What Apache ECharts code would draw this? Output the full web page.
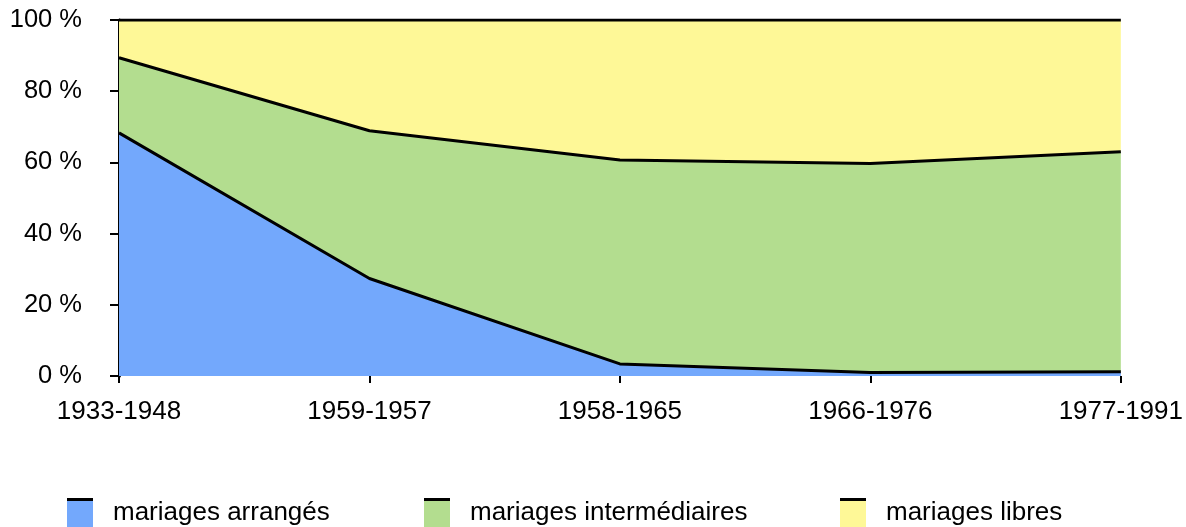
<!DOCTYPE html>
<html>
<head>
<meta charset="utf-8">
<script src="https://cdn.jsdelivr.net/npm/echarts@6/dist/echarts.min.js"></script>
<style>
  html, body { margin: 0; padding: 0; background: #fff; }
  #chart { width: 1186px; height: 527px; }
</style>
</head>
<body>
<div id="chart"></div>
<script>
// periods and shares (%)
var periods = ['1933-1948', '1959-1957', '1958-1965', '1966-1976', '1977-1991'];
var arranges = [68.3, 27.4, 3.4, 1.0, 1.2];
var intermediaires = [21.1, 41.5, 57.3, 58.7, 61.8];
var libres = [10.6, 31.1, 39.3, 40.3, 37.0];
var yTicks = [0, 20, 40, 60, 80, 100];

var names = ['mariages arrangés', 'mariages intermédiaires', 'mariages libres'];
var colors = ['#73a8fc', '#b3dd8f', '#fef897'];
var legendX = [67, 424, 840];

var font = '"Liberation Sans", Arial, Helvetica, sans-serif';

var myChart = echarts.init(document.getElementById('chart'));

function areaSeries(name, data, color) {
    return {
        name: name,
        type: 'line',
        stack: 'total',
        data: data,
        symbol: 'none',
        lineStyle: { color: '#000', width: 3 },
        itemStyle: { color: color },
        areaStyle: { color: color, opacity: 1 },
        emphasis: { disabled: true }
    };
}

var legends = names.map(function (n, i) {
    return {
        data: [n],
        left: legendX[i],
        top: 498,
        icon: 'rect',
        itemWidth: 26,
        itemHeight: 29,
        itemGap: 0,
        textStyle: { fontFamily: font, fontSize: 26, color: '#000', padding: [6, 0, 0, 15] },
        selectedMode: false,
        padding: 0
    };
});

// thin black bar on top of each legend swatch
var bars = legendX.map(function (x) {
    return {
        type: 'rect',
        left: x,
        top: 498,
        shape: { width: 26, height: 3 },
        style: { fill: '#000' },
        z: 100
    };
});

option = {
    animation: false,
    grid: { left: 119, right: 64, top: 20, bottom: 151 },
    legend: legends,
    graphic: bars,
    xAxis: {
        type: 'category',
        boundaryGap: false,
        data: periods,
        axisLine: { show: false },
        axisTick: { show: true, alignWithLabel: true, length: 7, lineStyle: { color: '#000', width: 2 } },
        axisLabel: { fontFamily: font, fontSize: 26, color: '#000', margin: 23, interval: 0 },
        splitLine: { show: false }
    },
    yAxis: {
        type: 'value',
        min: 0,
        max: 100,
        interval: 20,
        axisLine: { show: true, lineStyle: { color: '#000', width: 3 } },
        axisTick: { show: true, length: 9, lineStyle: { color: '#000', width: 2 } },
        axisLabel: {
            fontFamily: font, fontSize: 25.5, color: '#000', margin: 37,
            formatter: function (v) { return yTicks.indexOf(v) >= 0 ? v + ' %' : ''; }
        },
        splitLine: { show: false }
    },
    series: [
        areaSeries(names[0], arranges, colors[0]),
        areaSeries(names[1], intermediaires, colors[1]),
        areaSeries(names[2], libres, colors[2])
    ]
};
myChart.setOption(option);
</script>
</body>
</html>
